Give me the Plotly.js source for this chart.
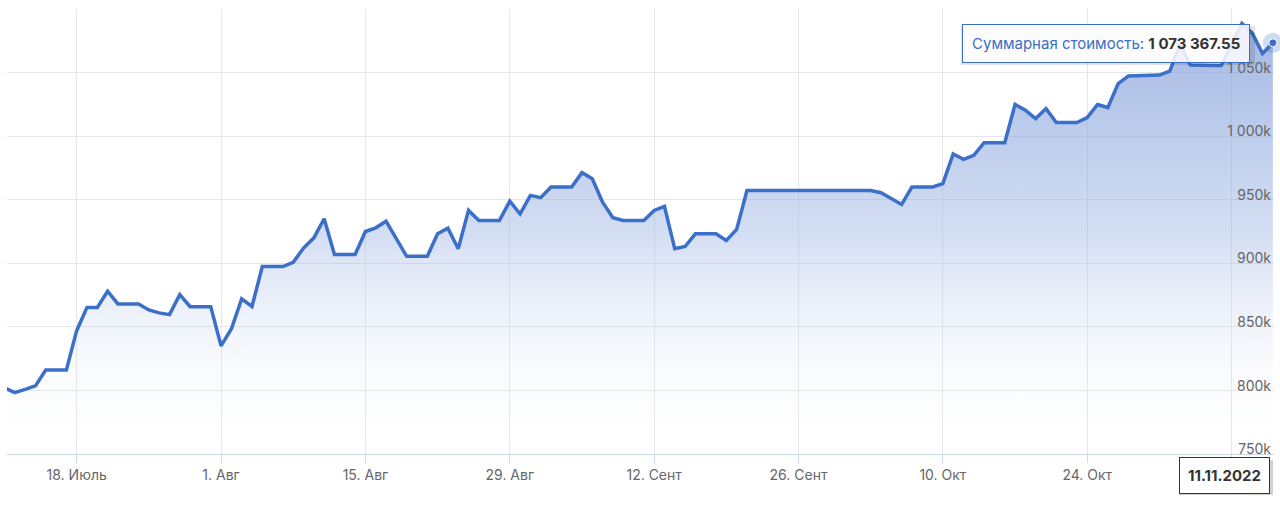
<!DOCTYPE html>
<html>
<head>
<meta charset="utf-8">
<script src="https://cdn.plot.ly/plotly-3.0.1.min.js"></script>
<style>
  html, body { margin: 0; padding: 0; background: #ffffff; }
  #chart { width: 1280px; height: 506px; }
</style>
</head>
<body>
<div id="chart"></div>
<script>
// ---- Data (daily, 11 Jul 2022 – 11 Nov 2022), value in roubles ----
const startDate = '2022-07-11';
const values = [
  // Jul 11 - Jul 31
  802000, 798300, 800800, 803600, 816000, 816000, 816000, 847000, 865300, 865300,
  878000, 868000, 868000, 868000, 863300, 861000, 859600, 875300, 865900, 865900,
  865900,
  // Aug 1 - Aug 31
  835000, 848300, 872000, 866000, 897400, 897400, 897400, 900800, 912000, 920000,
  935000, 906900, 906900, 906900, 925000, 927900, 933100, 919200, 905500, 905500,
  905500, 923200, 927600, 911400, 941600, 933700, 933700, 933700, 948900, 938900,
  953400,
  // Sep 1 - Sep 30
  951600, 960000, 960000, 960000, 971300, 966500, 948100, 935800, 933700, 933700,
  933700, 941600, 944700, 911400, 913200, 923200, 923200, 923200, 917900, 926600,
  957300, 957300, 957300, 957300, 957300, 957300, 957300, 957300, 957300, 957300,
  // Oct 1 - Oct 31
  957300, 957300, 957300, 955500, 951000, 946300, 960000, 960000, 960000, 962600,
  986000, 981800, 984900, 994900, 994900, 994900, 1024900, 1020400, 1013800, 1021700,
  1010700, 1010700, 1010700, 1014600, 1024900, 1022500, 1041400, 1047400, 1047400, 1047400,
  1048000,
  // Nov 1 - Nov 11
  1051100, 1072000, 1056000, 1055500, 1055500, 1055500, 1072800, 1088700, 1081000, 1065000,
  1073367.55
];

const xTickDates  = ['2022-07-18', '2022-08-01', '2022-08-15', '2022-08-29', '2022-09-12', '2022-09-26', '2022-10-10', '2022-10-24', '2022-11-07'];
const xTickLabels = ['18. Июль', '1. Авг', '15. Авг', '29. Авг', '12. Сент', '26. Сент', '10. Окт', '24. Окт', ''];

const yTickVals   = [750000, 800000, 850000, 900000, 950000, 1000000, 1050000, 1100000];
const yTickLabels = ['750k', '800k', '850k', '900k', '950k', '1 000k', '1 050k', ''];

const seriesName = 'Суммарная стоимость';

// ---- Build dates ----
function addDays(iso, n) {
  const d = new Date(iso + 'T00:00:00Z');
  d.setUTCDate(d.getUTCDate() + n);
  return d.toISOString().slice(0, 10);
}
const dates = values.map((_, i) => addDays(startDate, i));
const lastDate = dates[dates.length - 1];
const lastVal = values[values.length - 1];

function fmtMoney(v) {
  const parts = v.toFixed(2).split('.');
  const intPart = parts[0].replace(/\B(?=(\d{3})+(?!\d))/g, ' ');
  return intPart + '.' + parts[1];
}
function fmtDate(iso) {
  const [y, m, d] = iso.split('-');
  return d + '.' + m + '.' + y;
}

const lineColor = '#3b6fc9';

const mainTrace = {
  type: 'scatter',
  mode: 'lines',
  x: dates,
  y: values,
  name: seriesName,
  line: { color: lineColor, width: 3.5, shape: 'linear' },
  fill: 'tozeroy',
  fillgradient: {
    type: 'vertical',
    start: 750000,
    stop: 1100000,
    colorscale: [
      [0, 'rgba(255,255,255,0.0)'],
      [0.5, 'rgba(150,175,225,0.42)'],
      [1, 'rgba(120,150,215,0.72)']
    ]
  },
  hoverinfo: 'skip'
};

const haloTrace = {
  type: 'scatter', mode: 'markers',
  x: [lastDate], y: [lastVal],
  marker: { size: 20, color: 'rgba(59,111,201,0.25)' },
  cliponaxis: false, hoverinfo: 'skip'
};
const dotTrace = {
  type: 'scatter', mode: 'markers',
  x: [lastDate], y: [lastVal],
  marker: { size: 8, color: lineColor, line: { color: '#ffffff', width: 1 } },
  cliponaxis: false, hoverinfo: 'skip'
};

// plot-area helpers (pixels -> paper)
const M = { l: 7, r: 6, t: 9, b: 52 };
const W = 1280, H = 506;
const PW = W - M.l - M.r, PH = H - M.t - M.b;
const px = x => (x - M.l) / PW;
const py = y => (H - M.b - y) / PH;

const layout = {
  width: W, height: H,
  margin: M,
  paper_bgcolor: '#ffffff',
  plot_bgcolor: '#ffffff',
  showlegend: false,
  font: { family: 'Inter, "Noto Sans", sans-serif', color: '#666666', size: 14 },
  xaxis: {
    type: 'date',
    range: ['2022-07-11 05:50', '2022-11-11 02:40'],
    tickmode: 'array',
    tickvals: xTickDates,
    ticktext: xTickLabels,
    showgrid: true,
    gridcolor: '#e6e6e6',
    gridwidth: 1,
    showline: true,
    linecolor: '#ccd6eb',
    linewidth: 1,
    ticks: 'outside',
    ticklen: 8,
    tickcolor: '#ccd6eb',
    tickfont: { size: 14, color: '#666666' },
    zeroline: false,
    fixedrange: true
  },
  yaxis: {
    range: [750000, 1100000],
    side: 'right',
    tickmode: 'array',
    tickvals: yTickVals,
    ticktext: yTickLabels,
    ticklabelposition: 'inside top',
    ticklabelshift: 5,
    ticklabeloverflow: 'allow',
    showgrid: true,
    gridcolor: '#e6e6e6',
    gridwidth: 1,
    zeroline: false,
    showline: false,
    ticks: '',
    tickfont: { size: 14, color: '#666666' },
    fixedrange: true
  },
  shapes: [
    // tooltip shadow
    { type: 'rect', xref: 'paper', yref: 'paper',
      x0: px(961), x1: px(1255), y0: py(65), y1: py(26),
      fillcolor: 'rgba(0,0,0,0.10)', line: { width: 0 }, layer: 'above' },
    // date box shadow
    { type: 'rect', xref: 'paper', yref: 'paper',
      x0: px(1179), x1: px(1273), y0: py(495), y1: py(460),
      fillcolor: 'rgba(0,0,0,0.18)', line: { width: 0 }, layer: 'above' }
  ],
  annotations: [
    {
      xref: 'paper', yref: 'paper',
      x: px(1106), y: py(43.5), xanchor: 'center', yanchor: 'middle',
      showarrow: false,
      text: '<span style="color:' + lineColor + '">' + seriesName + ': </span><b>' + fmtMoney(lastVal) + '</b>',
      font: { size: 15, color: '#333333', family: 'Inter, "Noto Sans", sans-serif' },
      bgcolor: 'rgba(255,255,255,0.86)',
      bordercolor: lineColor,
      borderwidth: 1,
      borderpad: 9
    },
    {
      xref: 'paper', yref: 'paper',
      x: px(1224), y: py(475), xanchor: 'center', yanchor: 'middle',
      showarrow: false,
      text: '<b>' + fmtDate(lastDate) + '</b>',
      font: { size: 15, color: '#333333', family: 'Inter, "Noto Sans", sans-serif' },
      bgcolor: '#ffffff',
      bordercolor: '#333333',
      borderwidth: 1,
      borderpad: 8
    }
  ]
};

Plotly.newPlot('chart', [mainTrace, haloTrace, dotTrace], layout, { displayModeBar: false, staticPlot: true });
</script>
</body>
</html>
